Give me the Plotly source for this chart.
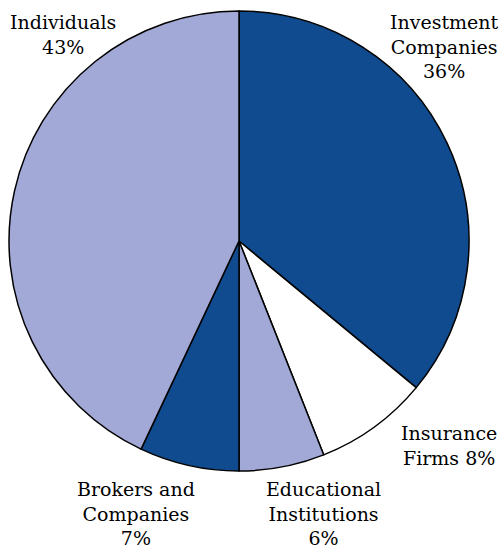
import plotly.graph_objects as go

# holders of shares, % of total
labels = ["Investment Companies", "Insurance Firms", "Educational Institutions",
          "Brokers and Companies", "Individuals"]
values = [36, 8, 6, 7, 43]
label_text = ["Investment<br>Companies<br>36%", "Insurance<br>Firms 8%",
              "Educational<br>Institutions<br>6%", "Brokers and<br>Companies<br>7%",
              "Individuals<br>43%"]

dark = "#104b8f"
light = "#a3a9d6"
colors = [dark, "#ffffff", light, dark, light]

W, H = 499, 548

fig = go.Figure(go.Pie(
    labels=labels,
    values=values,
    sort=False,
    direction="clockwise",
    rotation=0,
    textinfo="none",
    hoverinfo="label+percent",
    marker=dict(colors=colors, line=dict(color="black", width=1.5)),
    domain=dict(x=[9 / W, 469 / W], y=[1 - 471 / H, 1 - 11 / H]),
    showlegend=False,
))

# label anchor centres in pixels (x, y of first line top)
label_pos = [(444, 9), (449, 420), (323, 476), (136, 476), (63, 9)]

for txt, (px, py) in zip(label_text, label_pos):
    fig.add_annotation(
        text=txt, x=px / W, y=1 - py / H, xref="paper", yref="paper",
        xanchor="center", yanchor="top", showarrow=False, align="center",
        font=dict(family="DejaVu Serif", size=19, color="black"),
    )

fig.update_layout(
    width=W, height=H,
    margin=dict(l=0, r=0, t=0, b=0),
    paper_bgcolor="white",
    plot_bgcolor="white",
)

fig.write_html("out.html", config={"displayModeBar": False},
               post_script="document.body.style.margin='0';")
